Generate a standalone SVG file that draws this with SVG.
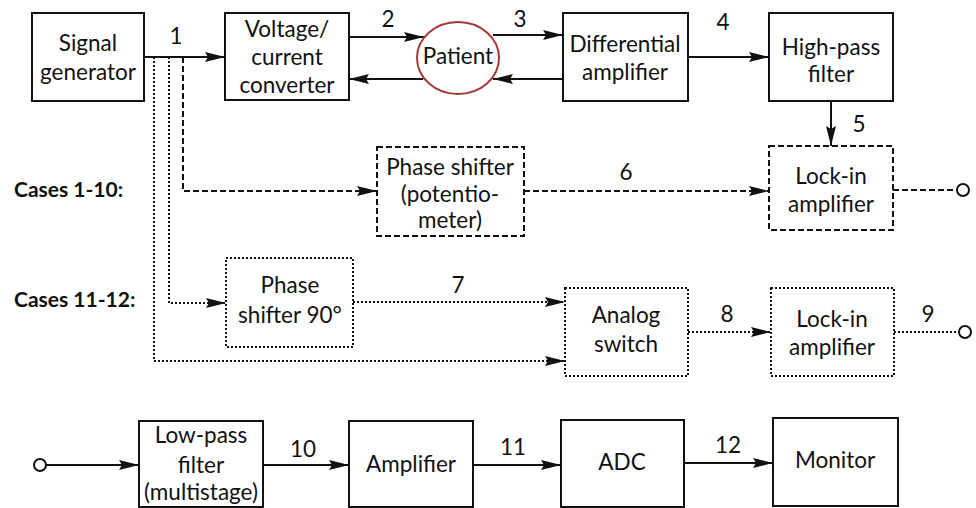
<svg xmlns="http://www.w3.org/2000/svg" width="976" height="508" viewBox="0 0 976 508">
<style>
text{font-family:Lato,"Liberation Sans",sans-serif;font-size:22.5px;fill:#111;text-anchor:middle}
.lab{font-weight:bold;text-anchor:start;font-size:21px}
.box{fill:#fff;stroke:#111;stroke-width:2}
.dash{stroke-dasharray:6 3}
.dot{stroke-dasharray:2 2}
.ln{fill:none;stroke:#111;stroke-width:2}
.term{fill:#fff;stroke:#111;stroke-width:2}
</style>
<defs>
<marker id="ar" markerUnits="userSpaceOnUse" markerWidth="20" markerHeight="10" refX="20" refY="5" orient="auto">
<path d="M0,0 L20,5 L0,10 L3,5 z" fill="#111"/>
</marker>
</defs>
<g id="connectors">
<path class="ln" d="M144,57 L225,57" marker-end="url(#ar)"/>
<path class="ln" d="M349,37 L424,37" marker-end="url(#ar)"/>
<path class="ln" d="M423,79 L349,79" marker-end="url(#ar)"/>
<path class="ln" d="M493,35 L563,35" marker-end="url(#ar)"/>
<path class="ln" d="M563,79 L493,79" marker-end="url(#ar)"/>
<path class="ln" d="M688,57 L769,57" marker-end="url(#ar)"/>
<path class="ln" d="M831,101 L831,146" marker-end="url(#ar)"/>
<path class="ln dash" d="M183,57 L183,191 L377,191" marker-end="url(#ar)"/>
<path class="ln dash" d="M524,191 L769,191" marker-end="url(#ar)"/>
<path class="ln dash" d="M893,190 L957,190"/>
<path class="ln dot" d="M169,57 L169,303 L226,303" marker-end="url(#ar)"/>
<path class="ln dot" d="M353,302 L565,302" marker-end="url(#ar)"/>
<path class="ln dot" d="M154,57 L154,361 L565,361" marker-end="url(#ar)"/>
<path class="ln dot" d="M688,332 L771,332" marker-end="url(#ar)"/>
<path class="ln dot" d="M894,332 L959,332"/>
<path class="ln" d="M46,465 L139,465" marker-end="url(#ar)"/>
<path class="ln" d="M263,465 L349,465" marker-end="url(#ar)"/>
<path class="ln" d="M473,465 L561,465" marker-end="url(#ar)"/>
<path class="ln" d="M684,463 L773,463" marker-end="url(#ar)"/>
<circle class="term" cx="963" cy="190" r="6"/>
<circle class="term" cx="965" cy="332" r="6"/>
<circle class="term" cx="40" cy="465" r="6"/>
<text x="176" y="44">1</text>
<text x="388" y="27">2</text>
<text x="520" y="27">3</text>
<text x="723" y="30">4</text>
<text x="859" y="132">5</text>
<text x="626" y="180">6</text>
<text x="458" y="293">7</text>
<text x="727" y="322">8</text>
<text x="928" y="322">9</text>
<text x="303" y="457">10</text>
<text x="513" y="455">11</text>
<text x="728" y="453">12</text>
</g>
<g id="labels">
<text class="lab" x="14" y="197">Cases 1-10:</text>
<text class="lab" x="14" y="307">Cases 11-12:</text>
</g>
<g id="signal-generator">
<rect class="box" x="32" y="13" width="112" height="88"/>
<text x="88" y="51">Signal</text>
<text x="88" y="80">generator</text>
</g>
<g id="vc-converter">
<rect class="box" x="225" y="13" width="124" height="87"/>
<text x="287" y="37">Voltage/</text>
<text x="287" y="65">current</text>
<text x="287" y="93">converter</text>
</g>
<g id="patient">
<ellipse cx="458" cy="58" rx="41" ry="36" fill="#fff" stroke="#a33a3a" stroke-width="2"/>
<text x="458" y="64">Patient</text>
</g>
<g id="diff-amp">
<rect class="box" x="563" y="13" width="125" height="88"/>
<text x="625" y="52">Differential</text>
<text x="625" y="80">amplifier</text>
</g>
<g id="high-pass">
<rect class="box" x="769" y="13" width="124" height="88"/>
<text x="831" y="55">High-pass</text>
<text x="831" y="82">filter</text>
</g>
<g id="lock-in-1">
<rect class="box dash" x="769" y="146" width="124" height="84"/>
<text x="831" y="184">Lock-in</text>
<text x="831" y="212">amplifier</text>
</g>
<g id="phase-shifter-pot">
<rect class="box dash" x="377" y="147" width="147" height="89"/>
<text x="450" y="175">Phase shifter</text>
<text x="450" y="202">(potentio-</text>
<text x="450" y="228">meter)</text>
</g>
<g id="phase-shifter-90">
<rect class="box dot" x="226" y="258" width="127" height="89"/>
<text x="290" y="293">Phase</text>
<text x="290" y="323">shifter 90°</text>
</g>
<g id="analog-switch">
<rect class="box dot" x="565" y="288" width="123" height="88"/>
<text x="626" y="323">Analog</text>
<text x="626" y="352">switch</text>
</g>
<g id="lock-in-2">
<rect class="box dot" x="771" y="288" width="123" height="88"/>
<text x="832" y="327">Lock-in</text>
<text x="832" y="355">amplifier</text>
</g>
<g id="low-pass">
<rect class="box" x="139" y="421" width="124" height="86"/>
<text x="201" y="443">Low-pass</text>
<text x="201" y="473">filter</text>
<text x="201" y="500">(multistage)</text>
</g>
<g id="amplifier">
<rect class="box" x="349" y="421" width="124" height="86"/>
<text x="411" y="472">Amplifier</text>
</g>
<g id="adc">
<rect class="box" x="561" y="420" width="123" height="87"/>
<text x="622" y="470">ADC</text>
</g>
<g id="monitor">
<rect class="box" x="773" y="418" width="125" height="88"/>
<text x="835" y="468">Monitor</text>
</g>
</svg>
